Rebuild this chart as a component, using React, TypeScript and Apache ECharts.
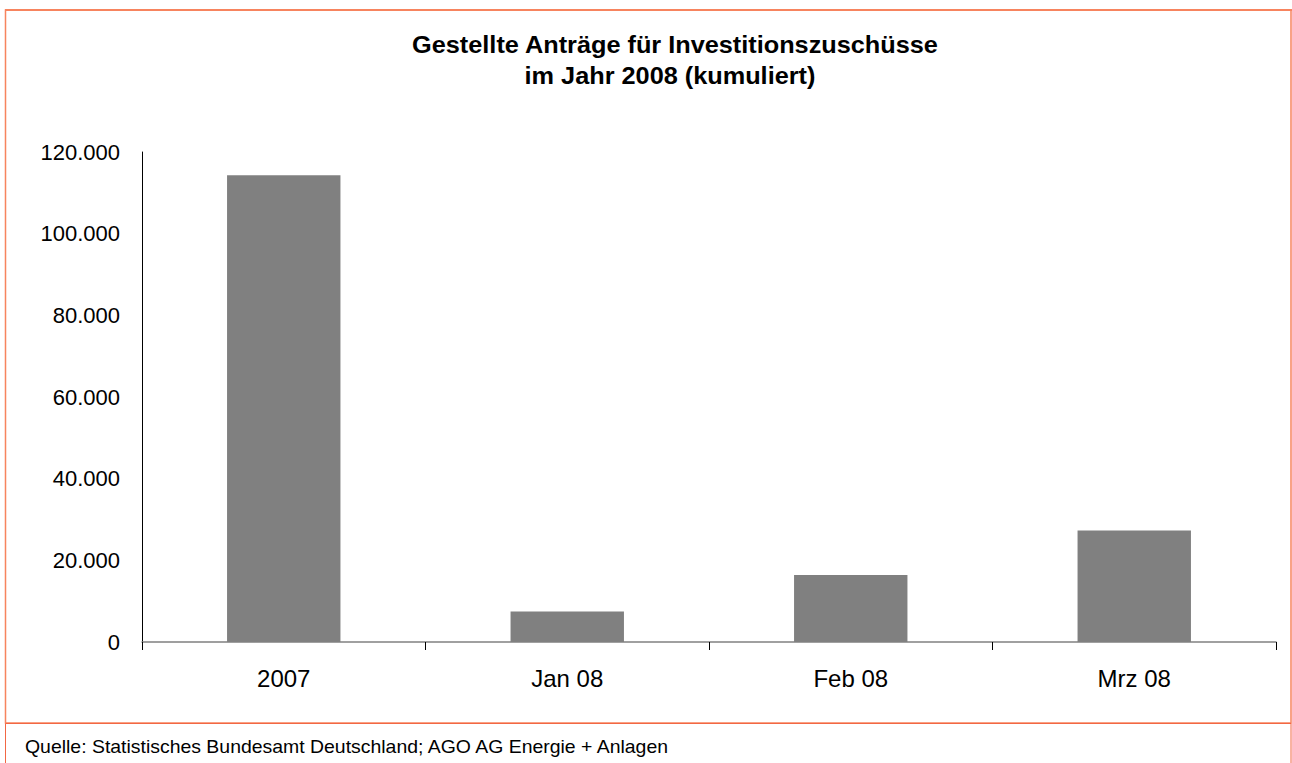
import React, { useEffect, useRef } from "react";
import * as echarts from "echarts";

const categories = ["2007", "Jan 08", "Feb 08", "Mrz 08"];
const antraege = [114300, 7500, 16400, 27300];
const titleLines = ["Gestellte Anträge für Investitionszuschüsse", "im Jahr 2008 (kumuliert)"];
const sourceText = "Quelle: Statistisches Bundesamt Deutschland; AGO AG Energie + Anlagen";

const FONT = "'Liberation Sans', Arial, sans-serif";

function fmt(v: number): string {
  return String(v).replace(/\B(?=(\d{3})+(?!\d))/g, ".");
}

export default function App() {
  const ref = useRef<HTMLDivElement>(null);
  useEffect(() => {
    if (!ref.current) return;
    const chart = echarts.init(ref.current, undefined, { renderer: "svg" });
    chart.setOption({
      animation: false,
      backgroundColor: "#ffffff",
      grid: { left: 142, right: 16, top: 152, bottom: 121, containLabel: false },
      xAxis: {
        type: "category",
        data: categories,
        boundaryGap: true,
        axisLine: { show: true, lineStyle: { color: "#808080", width: 1.5 } },
        axisTick: { show: true, alignWithLabel: false, length: 8, lineStyle: { color: "#000000", width: 1 } },
        axisLabel: { color: "#000000", fontFamily: FONT, fontSize: 24, margin: 24 },
        splitLine: { show: false },
      },
      yAxis: {
        type: "value",
        min: 0,
        max: 120000,
        interval: 20000,
        axisLine: { show: true, lineStyle: { color: "#000000", width: 1 } },
        axisTick: { show: false },
        splitLine: { show: false },
        axisLabel: {
          color: "#000000",
          fontFamily: FONT,
          fontSize: 22,
          margin: 22,
          formatter: (v: number) => fmt(v),
        },
      },
      series: [
        {
          type: "bar",
          data: antraege,
          barWidth: "40%",
          itemStyle: { color: "#808080" },
        },
      ],
      graphic: [
        {
          type: "rect",
          shape: { x: 5.5, y: 10, width: 1285.5, height: 713 },
          style: { fill: "none", stroke: "#F7845E", lineWidth: 1.5 },
          silent: true,
        },
        {
          type: "line",
          shape: { x1: 5, y1: 10, x2: 1292, y2: 10 },
          style: { stroke: "#F7845E", lineWidth: 2 },
          silent: true,
        },
        {
          type: "rect",
          shape: { x: 5.5, y: 723.5, width: 1285.5, height: 60 },
          style: { fill: "none", stroke: "#F26744", lineWidth: 1 },
          silent: true,
        },
        {
          type: "text",
          x: 675,
          y: 45,
          scaleX: 1.1,
          style: {
            text: titleLines[0],
            font: `bold 23px ${FONT}`,
            fill: "#000000",
            textAlign: "center",
            textVerticalAlign: "middle",
          },
        },
        {
          type: "text",
          x: 670,
          y: 76,
          scaleX: 1.1,
          style: {
            text: titleLines[1],
            font: `bold 23px ${FONT}`,
            fill: "#000000",
            textAlign: "center",
            textVerticalAlign: "middle",
          },
        },
        {
          type: "text",
          x: 25,
          y: 747,
          scaleX: 1.08,
          style: {
            text: sourceText,
            font: `18px ${FONT}`,
            fill: "#000000",
            textAlign: "left",
            textVerticalAlign: "middle",
          },
        },
      ],
    });
    return () => chart.dispose();
  }, []);
  return (
    <div
      ref={ref}
      style={{ position: "fixed", left: 0, top: 0, width: 1292, height: 763 }}
    />
  );
}
